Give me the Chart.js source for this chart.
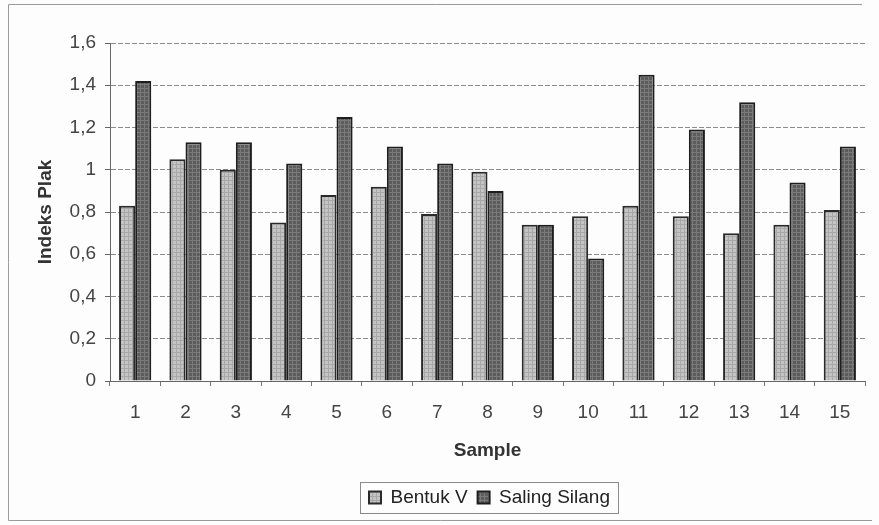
<!DOCTYPE html>
<html>
<head>
<meta charset="utf-8">
<script src="https://cdn.jsdelivr.net/npm/chart.js@4.4.0/dist/chart.umd.min.js"></script>
<style>
  html, body { margin: 0; padding: 0; background: #fdfdfd; }
  canvas { display: block; }
</style>
</head>
<body>
<canvas id="myChart" width="879" height="525"></canvas>
<script>
const samples = ['1', '2', '3', '4', '5', '6', '7', '8', '9', '10', '11', '12', '13', '14', '15'];
const bentukV = [0.83, 1.05, 1.00, 0.75, 0.88, 0.92, 0.79, 0.99, 0.74, 0.78, 0.83, 0.78, 0.70, 0.74, 0.81];
const salingSilang = [1.42, 1.13, 1.13, 1.03, 1.25, 1.11, 1.03, 0.90, 0.74, 0.58, 1.45, 1.19, 1.32, 0.94, 1.11];
const yTickLabels = ['0', '0,2', '0,4', '0,6', '0,8', '1', '1,2', '1,4', '1,6'];

const FONT = 'Arial, "Liberation Sans"';
const LEGEND_SHIFT = 40; // legend sits under the plot centre, not the canvas centre

// small texture so the bars look a bit like the scanned print
function makePattern(base, line) {
  const c = document.createElement('canvas');
  c.width = 4;
  c.height = 4;
  const g = c.getContext('2d');
  g.fillStyle = base;
  g.fillRect(0, 0, 4, 4);
  g.fillStyle = line;
  g.fillRect(0, 0, 1, 4);
  g.fillRect(0, 0, 4, 1);
  return g.createPattern(c, 'repeat');
}

const ctx = document.getElementById('myChart').getContext('2d');

const frame = {
  id: 'frame',
  afterLayout(chart) {
    const lg = chart.legend;
    lg.left += LEGEND_SHIFT;
    lg.right += LEGEND_SHIFT;
  },
  beforeDraw(chart) {
    const c = chart.ctx;
    c.save();
    c.fillStyle = '#fdfdfd';
    c.fillRect(0, 0, chart.width, chart.height);
    c.strokeStyle = '#9a9a9a';
    c.lineWidth = 1;
    c.beginPath();
    c.moveTo(862, 4.5);
    c.lineTo(8.5, 4.5);
    c.lineTo(8.5, 520.5);
    c.lineTo(872, 520.5);
    c.stroke();
    c.restore();
  },
  afterDraw(chart) {
    const boxes = chart.legend.legendHitBoxes;
    if (!boxes || !boxes.length) return;
    const first = boxes[0];
    const last = boxes[boxes.length - 1];
    const c = chart.ctx;
    c.save();
    c.strokeStyle = '#8a8a8a';
    c.lineWidth = 1;
    const x0 = Math.round(first.left) - 8.5;
    const x1 = Math.round(last.left + last.width) + 8.5;
    c.strokeRect(x0, Math.round(first.top) - 5.5, x1 - x0, first.height + 12);
    c.restore();
  }
};

new Chart(ctx, {
  type: 'bar',
  data: {
    labels: samples,
    datasets: [{
      label: 'Bentuk V',
      data: bentukV,
      backgroundColor: makePattern('#c4c4c4', '#a8a8a8'),
      borderColor: '#2a2a2a',
      borderWidth: 2,
      borderSkipped: 'bottom'
    }, {
      label: 'Saling Silang',
      data: salingSilang,
      backgroundColor: makePattern('#5c5c5c', '#7a7a7a'),
      borderColor: '#1e1e1e',
      borderWidth: 2,
      borderSkipped: 'bottom'
    }]
  },
  options: {
    responsive: false,
    animation: false,
    layout: { padding: { left: 34, right: 14, top: 43, bottom: 8 } },
    datasets: {
      bar: { categoryPercentage: 0.64, barPercentage: 1 }
    },
    plugins: {
      tooltip: { enabled: false },
      legend: {
        position: 'bottom',
        labels: {
          color: '#222',
          font: { family: FONT, size: 19 },
          boxWidth: 12,
          boxHeight: 12,
          padding: 10
        }
      }
    },
    scales: {
      x: {
        afterFit: (s) => { s.height = 97; },
        grid: {
          offset: true,
          drawOnChartArea: false,
          color: '#777',
          tickLength: 5
        },
        border: { display: true, color: '#666', width: 1 },
        ticks: {
          color: '#444',
          padding: 15,
          font: { family: FONT, size: 19 }
        },
        title: {
          display: true,
          text: 'Sample',
          color: '#333',
          font: { family: FONT, size: 19, weight: 'bold' },
          padding: { top: 0, bottom: 16 }
        }
      },
      y: {
        min: 0,
        max: 1.6,
        afterFit: (s) => { s.width = 76; },
        grid: {
          color: (c) => c.tick && c.tick.value === 0 ? 'rgba(0,0,0,0)' : '#8c8c8c',
          tickColor: '#666',
          tickLength: 5,
          lineWidth: 1
        },
        border: { display: true, color: '#666', width: 1, dash: [5, 2] },
        ticks: {
          stepSize: 0.2,
          color: '#444',
          padding: 9,
          font: { family: FONT, size: 19 },
          callback: (v, i) => yTickLabels[i]
        },
        title: {
          display: true,
          text: 'Indeks Plak',
          color: '#333',
          font: { family: FONT, size: 19, weight: 'bold' },
          padding: { top: 0, bottom: 0 }
        }
      }
    }
  },
  plugins: [frame]
});
</script>
</body>
</html>
